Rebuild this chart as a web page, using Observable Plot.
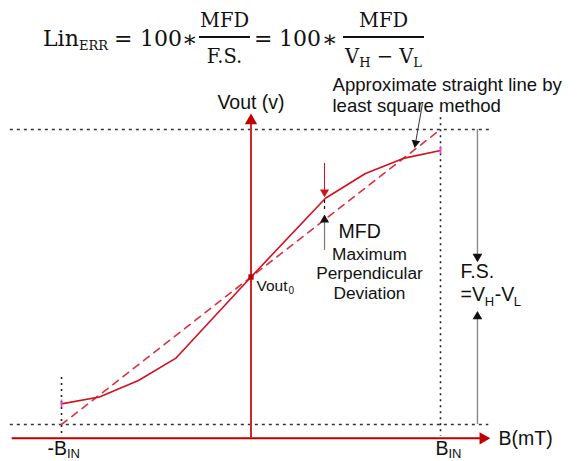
<!DOCTYPE html>
<html><head><meta charset="utf-8">
<script src="https://cdn.jsdelivr.net/npm/d3@7"></script>
<script src="https://cdn.jsdelivr.net/npm/@observablehq/plot@0.6"></script>
<style>
html,body{margin:0;padding:0;background:#fff;}
#formula{position:relative;width:578px;height:72px;font-family:'DejaVu Serif','DejaVu Sans',serif;color:#111;}
#formula .a{position:absolute;line-height:1;white-space:nowrap;}
#formula .sub{position:relative;font-size:13px;top:4px;}
#formula .bar{position:absolute;height:1.5px;background:#111;}
</style></head><body>
<div id="formula">
<span class="a" style="left:43px;top:28.4px;font-size:22px">Lin</span>
<span class="a" style="left:79px;top:39px;font-size:13px">ERR</span>
<span class="a" style="left:114px;top:28.4px;font-size:22px">=</span>
<span class="a" style="left:140px;top:28.4px;font-size:22px">100</span>
<span class="a" style="left:182px;top:27.7px;font-size:23px">∗</span>
<span class="a" style="left:199px;width:51px;text-align:center;top:11.4px;font-size:19.5px">MFD</span>
<div class="bar" style="left:199px;width:51px;top:36px"></div>
<span class="a" style="left:199px;width:51px;text-align:center;top:46.5px;font-size:19.5px">F.S.</span>
<span class="a" style="left:254px;top:28.4px;font-size:22px">=</span>
<span class="a" style="left:279px;top:28.4px;font-size:22px">100</span>
<span class="a" style="left:322px;top:27.7px;font-size:23px">∗</span>
<span class="a" style="left:343px;width:81px;text-align:center;top:11.4px;font-size:19.5px">MFD</span>
<div class="bar" style="left:343px;width:81px;top:36px"></div>
<span class="a" style="left:339px;width:89px;text-align:center;top:46.5px;font-size:19.5px">V<span class="sub">H</span> − V<span class="sub">L</span></span>
</div>
<div id="chart"></div>
<script>
// Transfer curve (B normalised to B_IN, Vout normalised: V_L = 0, V_H = 1)
const curveB = [-1, -0.80, -0.594, -0.398, 0, 0.393, 0.604, 0.81, 1];
const curveV = [0.07, 0.093, 0.149, 0.224, 0.5, 0.767, 0.851, 0.903, 0.929];
// Least-square straight line
const fitB = [-1, 1];
const fitV = [0, 1];
// Vout0 point
const originB = [0];
const originV = [0.5];

const curve = curveB.map((B, i) => ({B, V: curveV[i]}));
const fit = fitB.map((B, i) => ({B, V: fitV[i]}));
const origin = originB.map((B, i) => ({B, V: originV[i]}));
const ends = [curve[0], curve[curve.length - 1]];

// Guide lines (V_H, V_L, -B_IN, B_IN)
const hGuides = [{V: 1, B1: -1.27, B2: 1.26}, {V: 0, B1: -1.27, B2: 1.255}];
const vGuides = [{B: -1, V1: 0.159, V2: -0.04}, {B: 1, V1: 1.04, V2: -0.04}];
// Axes
const xAxis = [{V: -0.047, B1: -1.26, B2: 1.22}];
const yAxis = [{B: 0, V1: -0.047, V2: 1.03}];
const axisHeads = [{B: 1.225, V: -0.047, angle: 90}, {B: 0, V: 1.03, angle: 0}];
// MFD arrows
const mfdRed = [{B: 0.388, V1: 0.885, V2: 0.786}];
const mfdRedHead = [{B: 0.388, V: 0.788, angle: 180}];
const mfdBlack = [{B: 0.388, V1: 0.59, V2: 0.695}];
const mfdBlackHead = [{B: 0.388, V: 0.694, angle: 0}];
const mfdGap = [{B: 0.388, V1: 0.759, V2: 0.719}];
// F.S. arrows
const fsLines = [{B: 1.195, V1: 1, V2: 0.569}, {B: 1.195, V1: 0, V2: 0.366}];
const fsHeads = [{B: 1.195, V: 0.569, angle: 180}, {B: 1.195, V: 0.366, angle: 0}];
// Pointer to the straight line
const lsLine = [{B1: 0.905, V1: 1.088, B2: 0.868, V2: 0.954}];
const lsHead = [{B: 0.868, V: 0.954, angle: 190}];

// Labels
const labelsNote = [
  {text: "Approximate straight line by", B: 0.430, V: 1.132},
  {text: "least square method", B: 0.430, V: 1.061}
];
const labelsMain = [
  {text: "MFD", B: 0.462, V: 0.631},
  {text: "F.S.", B: 1.106, V: 0.498},
  {text: "=V", B: 1.106, V: 0.420},
  {text: "-V", B: 1.286, V: 0.420},
  {text: "B(mT)", B: 1.306, V: -0.071},
  {text: "-B", B: -1.074, V: -0.102},
  {text: "B", B: 0.974, V: -0.102}
];
const labelsCenter = [{text: "Vout (v)", B: 0, V: 1.068}];
const labelsMFD = [
  {text: "Maximum", B: 0.625, V: 0.559},
  {text: "Perpendicular", B: 0.625, V: 0.492},
  {text: "Deviation", B: 0.625, V: 0.426}
];
const labelsSub = [
  {text: "H", B: 1.234, V: 0.403},
  {text: "L", B: 1.387, V: 0.403},
  {text: "IN", B: -0.971, V: -0.115},
  {text: "IN", B: 1.042, V: -0.115}
];
const labelVout = [{text: "Vout", B: 0.029, V: 0.454}];
const labelVoutSub = [{text: "0", B: 0.198, V: 0.441}];

const ink = "#111";
const chart = Plot.plot({
  width: 578, height: 389,
  marginLeft: 61, marginRight: 138, marginTop: 57, marginBottom: 37,
  x: {domain: [-1, 1], axis: null},
  y: {domain: [0, 1], axis: null},
  style: {fontFamily: "'Liberation Sans', Arial, sans-serif", background: "#fff", overflow: "visible"},
  marks: [
    Plot.ruleY(hGuides, {y: "V", x1: "B1", x2: "B2", stroke: "#333", strokeWidth: 1.5, strokeDasharray: "3,4"}),
    Plot.ruleX(vGuides, {x: "B", y1: "V1", y2: "V2", stroke: "#222", strokeWidth: 1.6, strokeDasharray: "2,4"}),
    Plot.ruleX(fsLines, {x: "B", y1: "V1", y2: "V2", stroke: "#888", strokeWidth: 1.4}),
    Plot.dot(fsHeads, {x: "B", y: "V", symbol: "triangle", r: 3.6, rotate: "angle", fill: "#111", stroke: "none"}),
    Plot.ruleY(xAxis, {y: "V", x1: "B1", x2: "B2", stroke: "#c00000", strokeWidth: 2}),
    Plot.ruleX(yAxis, {x: "B", y1: "V1", y2: "V2", stroke: "#cc2a2a", strokeWidth: 2}),
    Plot.dot(axisHeads, {x: "B", y: "V", symbol: "triangle", r: 4.6, rotate: "angle", fill: "#c00000", stroke: "none"}),
    Plot.line(fit, {x: "B", y: "V", stroke: "#e0303c", strokeWidth: 1.6, strokeDasharray: "7,6"}),
    Plot.line(curve, {x: "B", y: "V", stroke: "#d40f1e", strokeWidth: 1.6}),
    Plot.ruleX(ends, {x: "B", y1: d => d.V - 0.013, y2: d => d.V + 0.013, stroke: "#e040e0", strokeWidth: 1.6}),
    Plot.dot(origin, {x: "B", y: "V", symbol: "square", r: 3, fill: "#c00000", stroke: "none"}),
    Plot.ruleX(mfdRed, {x: "B", y1: "V1", y2: "V2", stroke: "#d40f1e", strokeWidth: 1}),
    Plot.dot(mfdRedHead, {x: "B", y: "V", symbol: "triangle", r: 3.4, rotate: "angle", fill: "#d40f1e", stroke: "none"}),
    Plot.ruleX(mfdBlack, {x: "B", y1: "V1", y2: "V2", stroke: "#777", strokeWidth: 1.2}),
    Plot.dot(mfdBlackHead, {x: "B", y: "V", symbol: "triangle", r: 3.4, rotate: "angle", fill: "#111", stroke: "none"}),
    Plot.ruleX(mfdGap, {x: "B", y1: "V1", y2: "V2", stroke: "#111", strokeWidth: 1.2, strokeDasharray: "3,3"}),
    Plot.link(lsLine, {x1: "B1", y1: "V1", x2: "B2", y2: "V2", stroke: "#333", strokeWidth: 1}),
    Plot.dot(lsHead, {x: "B", y: "V", symbol: "triangle", r: 3.2, rotate: "angle", fill: "#111", stroke: "none"}),
    Plot.text(labelsNote, {x: "B", y: "V", text: "text", textAnchor: "start", lineAnchor: "bottom", fontSize: 18.6, fill: ink}),
    Plot.text(labelsMain, {x: "B", y: "V", text: "text", textAnchor: "start", lineAnchor: "bottom", fontSize: 19.5, fill: ink}),
    Plot.text(labelsCenter, {x: "B", y: "V", text: "text", textAnchor: "middle", lineAnchor: "bottom", fontSize: 19.5, fill: ink}),
    Plot.text(labelsMFD, {x: "B", y: "V", text: "text", textAnchor: "middle", lineAnchor: "bottom", fontSize: 17.3, fill: ink}),
    Plot.text(labelsSub, {x: "B", y: "V", text: "text", textAnchor: "start", lineAnchor: "bottom", fontSize: 13, fill: ink}),
    Plot.text(labelVout, {x: "B", y: "V", text: "text", textAnchor: "start", lineAnchor: "bottom", fontSize: 15.5, fill: ink}),
    Plot.text(labelVoutSub, {x: "B", y: "V", text: "text", textAnchor: "start", lineAnchor: "bottom", fontSize: 10, fill: ink})
  ]
});
document.getElementById("chart").appendChild(chart);
</script>
</body></html>
